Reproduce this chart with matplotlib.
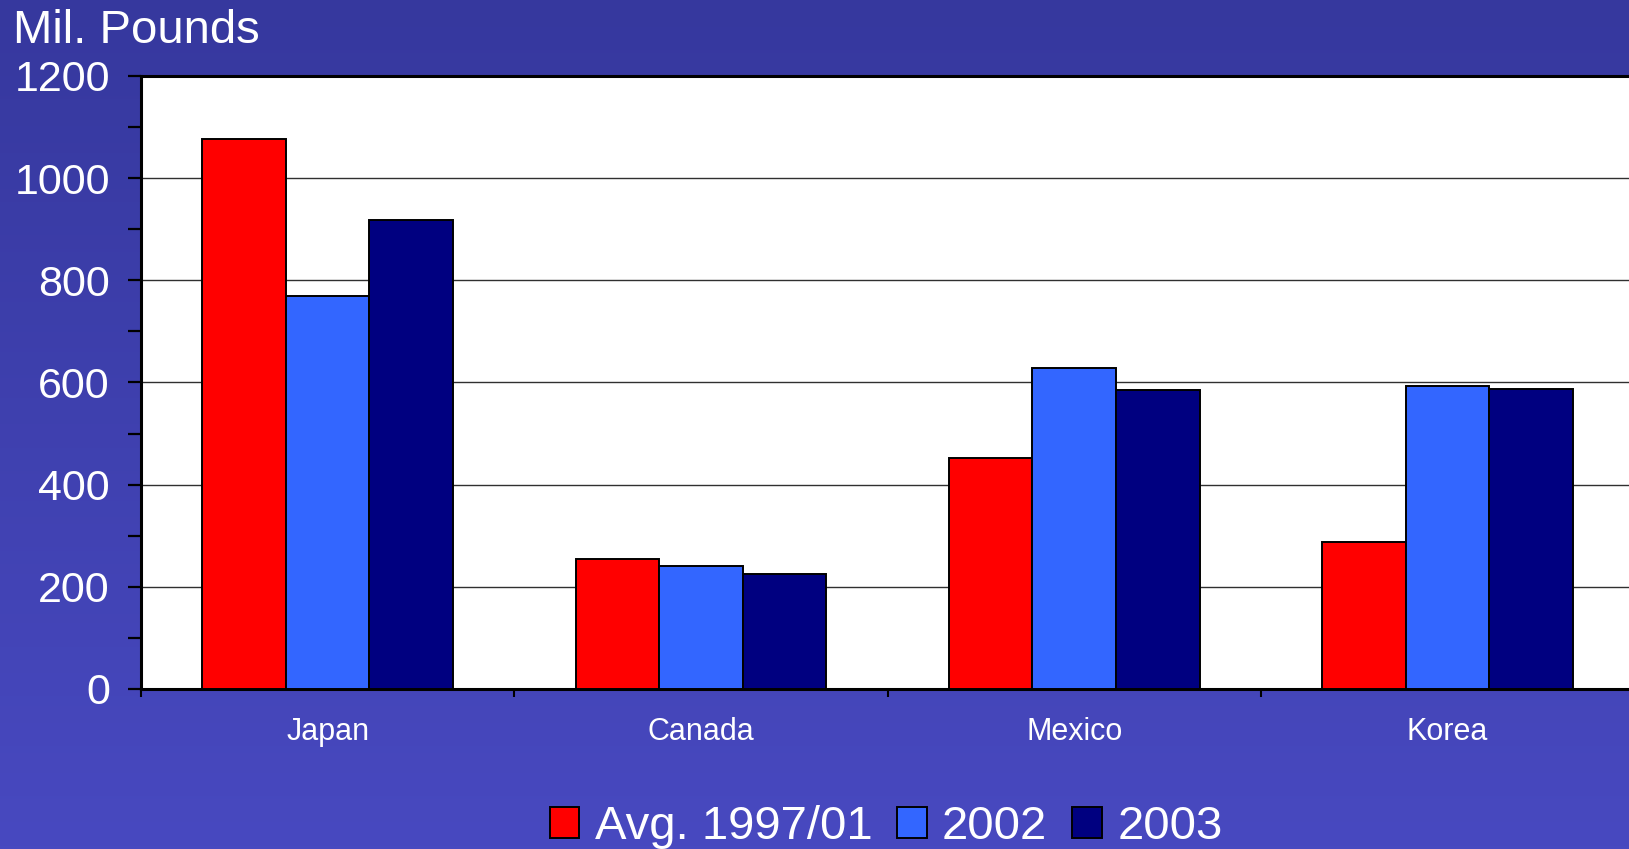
import matplotlib.pyplot as plt
import numpy as np
from matplotlib.ticker import MultipleLocator, FixedLocator

countries = ["Japan", "Canada", "Mexico", "Korea"]
series = ["Avg. 1997/01", "2002", "2003"]
avg_97_01 = [1076, 255, 452, 288]
y2002 = [769, 241, 629, 594]
y2003 = [918, 226, 586, 587]
colors = ["#FF0000", "#3366FF", "#000080"]

plt.rcParams["font.family"] = ["Liberation Sans", "DejaVu Sans"]

fig = plt.figure(figsize=(16.29, 8.49), dpi=100)

# gradient background
bg = fig.add_axes([0, 0, 1, 1], zorder=-10)
top = np.array([54, 56, 158]) / 255
bot = np.array([72, 73, 192]) / 255
t = np.linspace(0, 1, 256)[:, None]
grad = top[None, :] * (1 - t) + bot[None, :] * t
bg.imshow(grad[:, None, :], aspect="auto", extent=[0, 1, 0, 1])
bg.axis("off")

ax = fig.add_axes([0.0866, 0.1885, 0.9165, 0.722])
ax.set_facecolor("white")

x = np.arange(len(countries))
w = 0.224
for i, (vals, lab) in enumerate(zip([avg_97_01, y2002, y2003], series)):
    ax.bar(x + (i - 1) * w, vals, w, color=colors[i], edgecolor="black",
           linewidth=1.4, label=lab, zorder=3)

ax.set_xlim(-0.5, len(countries) - 0.5)
ax.set_ylim(0, 1200)
ax.yaxis.set_major_locator(MultipleLocator(200))
ax.yaxis.set_minor_locator(MultipleLocator(100))
ax.grid(axis="y", color="#303030", linewidth=1.0, zorder=0)

ax.set_xticks(x)
ax.set_xticklabels(countries)
ax.xaxis.set_minor_locator(FixedLocator(np.arange(-0.5, len(countries), 1.0)))
ax.tick_params(axis="x", which="major", length=0, pad=20, labelsize=22,
               labelcolor="white")
ax.tick_params(axis="x", which="minor", direction="out", length=6, width=1.5,
               color="black")
ax.tick_params(axis="y", which="both", direction="out", length=9.5, width=1.6,
               color="black")
ax.tick_params(axis="y", which="major", labelsize=31, labelcolor="white", pad=13)

for s in ["left", "bottom", "top"]:
    ax.spines[s].set_linewidth(2.2)
    ax.spines[s].set_color("black")
ax.spines["right"].set_visible(False)

fig.text(13 / 1629, 1 - 43 / 849, "Mil. Pounds", color="white", fontsize=34,
         va="baseline", ha="left")

leg = fig.legend(loc="center", bbox_to_anchor=(0.544, 0.026), ncol=3,
                 frameon=False, handlelength=0.62, handleheight=0.62,
                 handletextpad=0.33, columnspacing=0.53, borderpad=0.2,
                 fontsize=34)
for txt in leg.get_texts():
    txt.set_color("white")

fig.savefig("out.png", dpi=100)
